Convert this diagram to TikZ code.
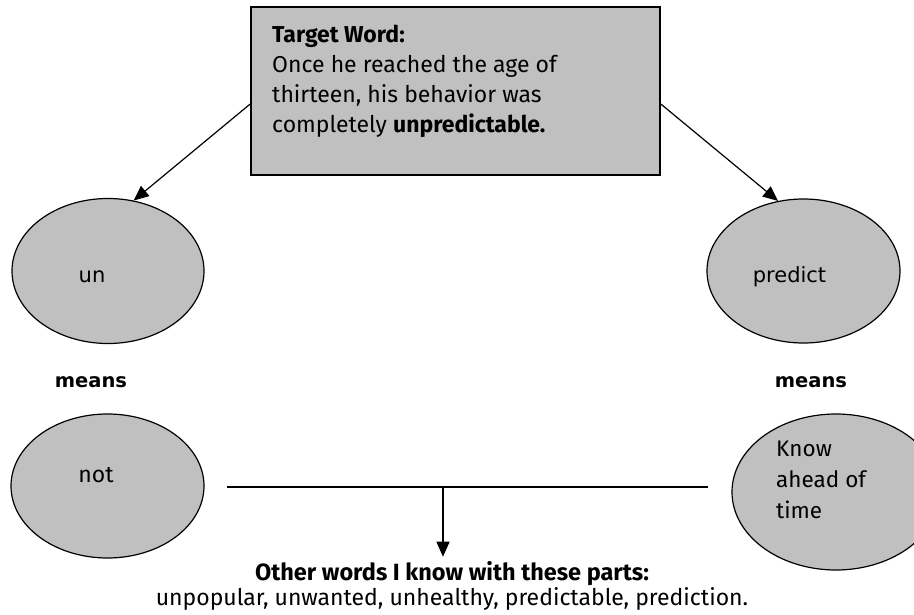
\documentclass[tikz,border=0pt]{standalone}
\usepackage{fontspec}
\setmainfont{Fira Sans}
\newfontfamily\roundfont{DejaVu Sans}
\usetikzlibrary{arrows.meta,shapes.geometric}
\definecolor{boxgray}{HTML}{C0C0C0}

\begin{document}
\begin{tikzpicture}[x=1pt,y=-1pt,
    wordbox/.style={draw=black,line width=1.6pt,fill=boxgray,minimum width=409pt,minimum height=168pt,inner sep=0pt},
    part/.style={ellipse,draw=black,line width=1.2pt,fill=boxgray,inner sep=0pt},
    link/.style={-{Triangle[length=15pt,width=13pt]},line width=1.2pt},
    txt/.style={font=\fontsize{23}{30}\selectfont,inner sep=0pt},
    roundtxt/.style={font=\roundfont\fontsize{21}{24}\selectfont,inner sep=0pt}]
  \useasboundingbox (0,0) rectangle (914,615);

  % target sentence
  \node[wordbox] (target) at (455.5,91) {};
  \node[txt,anchor=north west,align=left] (sentence) at (272,25)
    {\textbf{Target Word:}\\Once he reached the age of\\thirteen, his behavior was\\completely \textbf{unpredictable.}};

  % word parts
  \node[part,minimum width=192pt,minimum height=145pt] (un) at (108,271) {};
  \node[roundtxt,anchor=base] (untext) at (92,282) {un};
  \node[part,minimum width=193pt,minimum height=144pt] (predict) at (803.5,271) {};
  \node[roundtxt,anchor=base] (predicttext) at (789.5,282) {predict};
  \draw[link] ([yshift=-13pt]target.west) -- (un.70);
  \draw[link] ([yshift=-13pt]target.east) -- (predict.110);

  \node[roundtxt,font=\roundfont\bfseries\fontsize{19.5}{24}\selectfont,anchor=base] (meansleft) at (91,387) {means};
  \node[roundtxt,font=\roundfont\bfseries\fontsize{19.5}{24}\selectfont,anchor=base] (meansright) at (811,387) {means};

  % meanings
  \node[part,minimum width=193pt,minimum height=144pt] (not) at (107.5,486) {};
  \node[txt,anchor=base] (nottext) at (96,482) {not};
  \node[part,minimum width=208pt,minimum height=156pt] (know) at (836,492) {};
  \node[txt,anchor=north west,align=left,font=\fontsize{22.5}{31}\selectfont] (knowtext) at (776,441) {Know\\ahead of\\time};

  % other words
  \coordinate (barleft) at (227,487);
  \coordinate (barright) at (708,487);
  \coordinate (barmid) at (443,487);
  \node[txt,font=\bfseries\fontsize{23.5}{25}\selectfont,anchor=base] (othershead) at (452,580) {Other words I know with these parts:};
  \node[txt,anchor=base] (otherslist) at (452,605) {unpopular, unwanted, unhealthy, predictable, prediction.};
  \draw[line width=1.5pt] (barleft) -- (barright);
  \draw[link,shorten >=4pt] (barmid) -- (barmid |- othershead.north);
\end{tikzpicture}
\end{document}
